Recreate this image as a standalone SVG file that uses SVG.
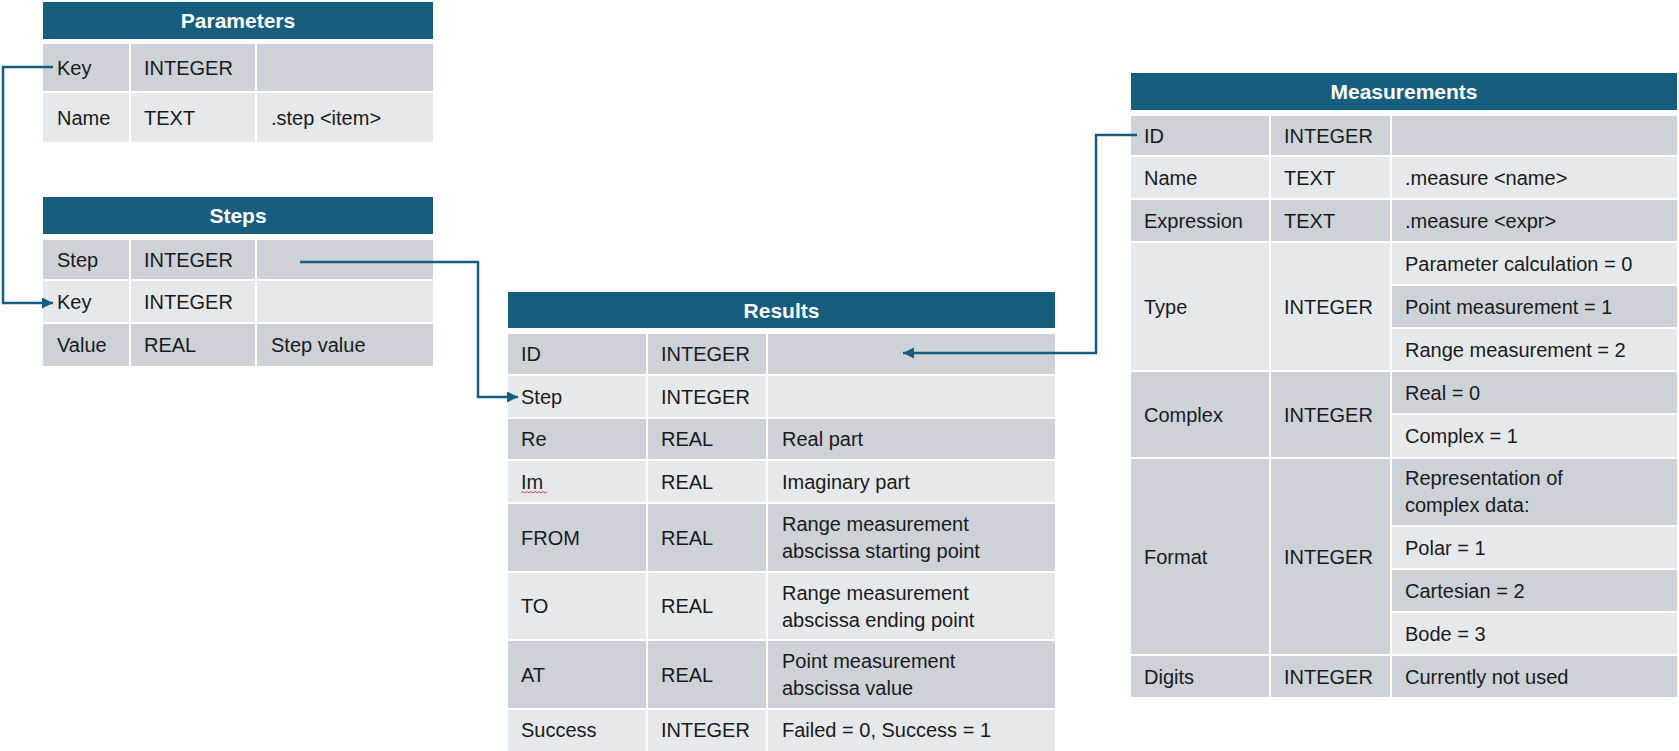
<svg xmlns="http://www.w3.org/2000/svg" width="1679" height="751" viewBox="0 0 1679 751">
<defs>
<style>
.hd{fill:#175e7e}
.d{fill:#cdd2d9}
.l{fill:#e6e9ec}
text{font-family:"Liberation Sans",Arial,sans-serif;font-size:20px;fill:#1a1a1a}
text.h{font-weight:bold;font-size:21px;fill:#ffffff;text-anchor:middle}
.cn{fill:none;stroke:#175e7e;stroke-width:2.5}
</style>
<marker id="arr" markerUnits="userSpaceOnUse" markerWidth="12" markerHeight="12" refX="11" refY="5.5" orient="auto">
<path d="M0,0 L11,5.5 L0,11 z" fill="#175e7e"/>
</marker>
</defs>
<rect width="1679" height="751" fill="#ffffff"/>

<g id="parameters">
<rect class="hd" x="43" y="2" width="390" height="37"/>
<text class="h" x="238" y="28">Parameters</text>
<rect class="d" x="43" y="44" width="86" height="47"/><rect class="d" x="131" y="44" width="124" height="47"/><rect class="d" x="257" y="44" width="176" height="47"/>
<rect class="l" x="43" y="93" width="86" height="49"/><rect class="l" x="131" y="93" width="124" height="49"/><rect class="l" x="257" y="93" width="176" height="49"/>
<text x="57" y="74.5">Key</text><text x="144" y="74.5">INTEGER</text>
<text x="57" y="124.5">Name</text><text x="144" y="124.5">TEXT</text><text x="271" y="124.5">.step &lt;item&gt;</text>
</g>

<g id="steps">
<rect class="hd" x="43" y="197" width="390" height="37"/>
<text class="h" x="238" y="223">Steps</text>
<rect class="d" x="43" y="240" width="86" height="39"/><rect class="d" x="131" y="240" width="124" height="39"/><rect class="d" x="257" y="240" width="176" height="39"/>
<rect class="l" x="43" y="281" width="86" height="41"/><rect class="l" x="131" y="281" width="124" height="41"/><rect class="l" x="257" y="281" width="176" height="41"/>
<rect class="d" x="43" y="324" width="86" height="42"/><rect class="d" x="131" y="324" width="124" height="42"/><rect class="d" x="257" y="324" width="176" height="42"/>
<text x="57" y="266.5">Step</text><text x="144" y="266.5">INTEGER</text>
<text x="57" y="308.5">Key</text><text x="144" y="308.5">INTEGER</text>
<text x="57" y="352">Value</text><text x="144" y="352">REAL</text><text x="271" y="352">Step value</text>
</g>

<g id="results">
<rect class="hd" x="508" y="292" width="547" height="36"/>
<text class="h" x="781.5" y="317.5">Results</text>
<rect class="d" x="508" y="334" width="138" height="40"/><rect class="d" x="648" y="334" width="118" height="40"/><rect class="d" x="768" y="334" width="287" height="40"/>
<rect class="l" x="508" y="376" width="138" height="41"/><rect class="l" x="648" y="376" width="118" height="41"/><rect class="l" x="768" y="376" width="287" height="41"/>
<rect class="d" x="508" y="419" width="138" height="40"/><rect class="d" x="648" y="419" width="118" height="40"/><rect class="d" x="768" y="419" width="287" height="40"/>
<rect class="l" x="508" y="461" width="138" height="41"/><rect class="l" x="648" y="461" width="118" height="41"/><rect class="l" x="768" y="461" width="287" height="41"/>
<rect class="d" x="508" y="504" width="138" height="67"/><rect class="d" x="648" y="504" width="118" height="67"/><rect class="d" x="768" y="504" width="287" height="67"/>
<rect class="l" x="508" y="573" width="138" height="66"/><rect class="l" x="648" y="573" width="118" height="66"/><rect class="l" x="768" y="573" width="287" height="66"/>
<rect class="d" x="508" y="641" width="138" height="67"/><rect class="d" x="648" y="641" width="118" height="67"/><rect class="d" x="768" y="641" width="287" height="67"/>
<rect class="l" x="508" y="710" width="138" height="41"/><rect class="l" x="648" y="710" width="118" height="41"/><rect class="l" x="768" y="710" width="287" height="41"/>
<text x="521" y="361">ID</text><text x="661" y="361">INTEGER</text>
<text x="521" y="403.5">Step</text><text x="661" y="403.5">INTEGER</text>
<text x="521" y="446">Re</text><text x="661" y="446">REAL</text><text x="782" y="446">Real part</text>
<text x="521" y="488.5">Im</text><text x="661" y="488.5">REAL</text><text x="782" y="488.5">Imaginary part</text>
<path d="M521,493 l2,-1.5 l2,1.5 l2,-1.5 l2,1.5 l2,-1.5 l2,1.5 l2,-1.5 l2,1.5 l2,-1.5 l2,1.5 l2,-1.5 l2,1.5 l2,-1.5" fill="none" stroke="#e0302a" stroke-width="0.9"/>
<text x="521" y="544.5">FROM</text><text x="661" y="544.5">REAL</text><text x="782" y="531">Range measurement</text><text x="782" y="558">abscissa starting point</text>
<text x="521" y="613">TO</text><text x="661" y="613">REAL</text><text x="782" y="599.5">Range measurement</text><text x="782" y="626.5">abscissa ending point</text>
<text x="521" y="681.5">AT</text><text x="661" y="681.5">REAL</text><text x="782" y="668">Point measurement</text><text x="782" y="695">abscissa value</text>
<text x="521" y="737">Success</text><text x="661" y="737">INTEGER</text><text x="782" y="737">Failed = 0, Success = 1</text>
</g>

<g id="measurements">
<rect class="hd" x="1131" y="73" width="546" height="37"/>
<text class="h" x="1404" y="99">Measurements</text>
<rect class="d" x="1131" y="116" width="138" height="39"/><rect class="d" x="1271" y="116" width="119" height="39"/><rect class="d" x="1392" y="116" width="285" height="39"/>
<rect class="l" x="1131" y="157" width="138" height="41"/><rect class="l" x="1271" y="157" width="119" height="41"/><rect class="l" x="1392" y="157" width="285" height="41"/>
<rect class="d" x="1131" y="200" width="138" height="41"/><rect class="d" x="1271" y="200" width="119" height="41"/><rect class="d" x="1392" y="200" width="285" height="41"/>
<rect class="l" x="1131" y="243" width="138" height="127"/><rect class="l" x="1271" y="243" width="119" height="127"/>
<rect class="l" x="1392" y="243" width="285" height="41"/><rect class="d" x="1392" y="286" width="285" height="41"/><rect class="l" x="1392" y="329" width="285" height="41"/>
<rect class="d" x="1131" y="372" width="138" height="85"/><rect class="d" x="1271" y="372" width="119" height="85"/>
<rect class="d" x="1392" y="372" width="285" height="41"/><rect class="l" x="1392" y="415" width="285" height="42"/>
<rect class="d" x="1131" y="459" width="138" height="195"/><rect class="d" x="1271" y="459" width="119" height="195"/>
<rect class="d" x="1392" y="459" width="285" height="66"/><rect class="l" x="1392" y="527" width="285" height="41"/><rect class="d" x="1392" y="570" width="285" height="41"/><rect class="l" x="1392" y="613" width="285" height="41"/>
<rect class="d" x="1131" y="656" width="138" height="41"/><rect class="d" x="1271" y="656" width="119" height="41"/><rect class="d" x="1392" y="656" width="285" height="41"/>
<text x="1144" y="142.5">ID</text><text x="1284" y="142.5">INTEGER</text>
<text x="1144" y="184.5">Name</text><text x="1284" y="184.5">TEXT</text><text x="1405" y="184.5">.measure &lt;name&gt;</text>
<text x="1144" y="227.5">Expression</text><text x="1284" y="227.5">TEXT</text><text x="1405" y="227.5">.measure &lt;expr&gt;</text>
<text x="1144" y="313.5">Type</text><text x="1284" y="313.5">INTEGER</text>
<text x="1405" y="270.5">Parameter calculation = 0</text><text x="1405" y="313.5">Point measurement = 1</text><text x="1405" y="356.5">Range measurement = 2</text>
<text x="1144" y="421.5">Complex</text><text x="1284" y="421.5">INTEGER</text>
<text x="1405" y="399.5">Real = 0</text><text x="1405" y="443">Complex = 1</text>
<text x="1144" y="563.5">Format</text><text x="1284" y="563.5">INTEGER</text>
<text x="1405" y="485">Representation of</text><text x="1405" y="512">complex data:</text>
<text x="1405" y="554.5">Polar = 1</text><text x="1405" y="597.5">Cartesian = 2</text><text x="1405" y="640.5">Bode = 3</text>
<text x="1144" y="683.5">Digits</text><text x="1284" y="683.5">INTEGER</text><text x="1405" y="683.5">Currently not used</text>
</g>

<g id="connectors">
<path class="cn" d="M53,67 H3 V303 H53" marker-end="url(#arr)"/>
<path class="cn" d="M300,262 H478 V397 H518" marker-end="url(#arr)"/>
<path class="cn" d="M1137,135 H1096 V353 H903" marker-end="url(#arr)"/>
</g>
</svg>
